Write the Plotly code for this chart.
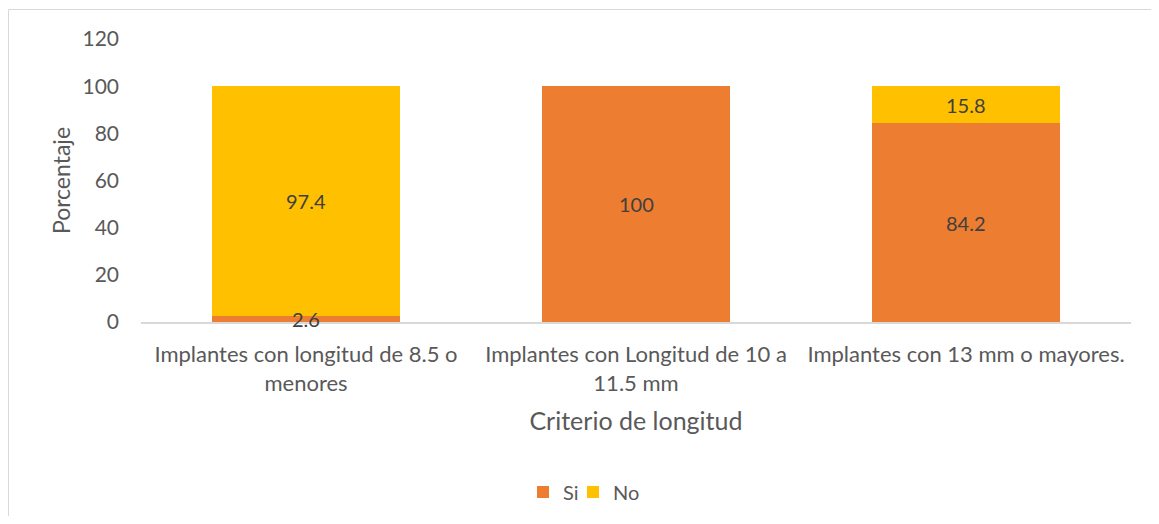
import plotly.graph_objects as go

categories = [
    "Implantes con longitud de 8.5 o<br>menores",
    "Implantes con Longitud de 10 a<br>11.5 mm",
    "Implantes con 13 mm o mayores.",
]
si_values = [2.6, 100, 84.2]
no_values = [97.4, 0, 15.8]
y_ticks = [0, 20, 40, 60, 80, 100, 120]

ORANGE = "#ED7D31"
YELLOW = "#FFC000"
FONT = "Lato"
TXT = "#595959"

fig = go.Figure()
fig.add_trace(go.Bar(name="Si", x=categories, y=si_values, marker_color=ORANGE,
                     marker_line_width=0, legend="legend"))
fig.add_trace(go.Bar(name="No", x=categories, y=no_values, marker_color=YELLOW,
                     marker_line_width=0, legend="legend2"))

annotations = []
for c, s, n in zip(categories, si_values, no_values):
    if s > 0:
        annotations.append(dict(x=c, y=s / 2, text=f"{s:g}", showarrow=False,
                                font=dict(family=FONT, size=20, color="#404040")))
    if n > 0:
        annotations.append(dict(x=c, y=s + n / 2, text=f"{n:g}", showarrow=False,
                                font=dict(family=FONT, size=20, color="#404040")))

W, H = 1143, 508
L, R, T, B = 133, 20, 31, 194
pw = W - L - R
ph = H - T - B

leg_common = dict(orientation="h", xanchor="left", yanchor="middle",
                  y=(T + ph - 484) / ph, itemwidth=30,
                  bgcolor="rgba(0,0,0,0)",
                  font=dict(family=FONT, size=20, color=TXT))

fig.update_layout(
    width=W, height=H,
    margin=dict(l=L, r=R, t=T, b=B, pad=0, autoexpand=False),
    barmode="stack",
    bargap=0.43,
    plot_bgcolor="white",
    paper_bgcolor="white",
    font=dict(family=FONT, size=20, color=TXT),
    showlegend=True,
    legend=dict(x=(515 - L) / pw, **leg_common),
    legend2=dict(x=(565 - L) / pw, **leg_common),
    annotations=annotations,
    shapes=[dict(type="rect", xref="paper", yref="paper",
                 x0=(-L + 0.5) / pw, x1=(W - L + 20) / pw,
                 y0=-(B + 20) / ph, y1=1 + (T - 1.5) / ph,
                 line=dict(color="#D9D9D9", width=1), layer="below")],
)
fig.update_xaxes(
    automargin=False,
    showline=True, linecolor="#D9D9D9", linewidth=1.5,
    showgrid=False, ticks="", ticklabelstandoff=12,
    tickfont=dict(family=FONT, size=22, color=TXT),
    title=dict(text="Criterio de longitud", standoff=18,
               font=dict(family=FONT, size=25, color=TXT)),
)
fig.update_yaxes(
    automargin=False,
    range=[0, 120], tickvals=y_ticks, showgrid=False, zeroline=False,
    showline=False, ticks="", ticklabelstandoff=21,
    tickfont=dict(family=FONT, size=21, color=TXT),
    title=dict(text="Porcentaje", standoff=5,
               font=dict(family=FONT, size=23, color=TXT)),
)

fig.write_html("out.html")
